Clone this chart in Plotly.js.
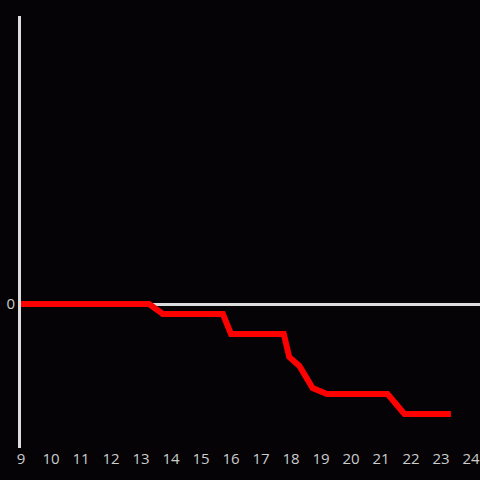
<!DOCTYPE html>
<html>
<head>
<meta charset="utf-8">
<script src="https://cdn.plot.ly/plotly-3.0.1.min.js"></script>
<style>html,body{margin:0;padding:0;background:#050306;}#chart{width:480px;height:480px;}</style>
</head>
<body>
<div id="chart"></div>
<script>
var hours = [9, 13.27, 13.73, 15.73, 16.0, 17.76, 17.94, 18.28, 18.72, 19.1, 19.2, 21.22, 21.78, 23.33];
var values = [0, 0, -0.5, -0.5, -1.5, -1.5, -2.65, -3.1, -4.2, -4.45, -4.5, -4.5, -5.5, -5.5];
var xTicks = [9, 10, 11, 12, 13, 14, 15, 16, 17, 18, 19, 20, 21, 22, 23, 24];
var yTicks = [0];

Plotly.newPlot('chart', [{
  x: hours,
  y: values,
  type: 'scatter',
  mode: 'lines',
  line: {color: '#ff0000', width: 6},
  hoverinfo: 'skip'
}], {
  width: 480,
  height: 480,
  paper_bgcolor: '#050306',
  plot_bgcolor: '#050306',
  margin: {l: 21, r: 0, t: 16, b: 32},
  showlegend: false,
  font: {family: 'Open Sans, sans-serif', size: 15, color: '#cccccc'},
  xaxis: {
    range: [9, 24.3],
    tickvals: xTicks,
    ticktext: xTicks.map(String),
    showgrid: false,
    zeroline: false,
    showline: false,
    ticks: '',
    ticklabeloverflow: 'allow',
    tickfont: {size: 15, color: '#cccccc'}
  },
  yaxis: {
    range: [-7.2, 14.4],
    tickvals: yTicks,
    ticktext: yTicks.map(String),
    showgrid: false,
    zeroline: true,
    zerolinecolor: '#dddddd',
    zerolinewidth: 3,
    showline: true,
    linecolor: '#dddddd',
    linewidth: 3,
    ticks: '',
    tickfont: {size: 15, color: '#cccccc'}
  }
}, {staticPlot: true, displayModeBar: false});
</script>
</body>
</html>
